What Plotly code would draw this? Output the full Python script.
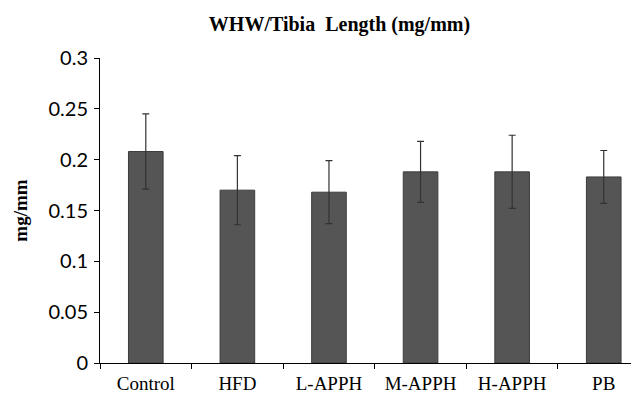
import plotly.graph_objects as go

categories = ["Control", "HFD", "L-APPH", "M-APPH", "H-APPH", "PB"]
means = [0.208, 0.170, 0.168, 0.188, 0.188, 0.183]
errors = [0.037, 0.034, 0.031, 0.030, 0.036, 0.026]
y_ticks = [0, 0.05, 0.1, 0.15, 0.2, 0.25, 0.3]
y_tick_labels = ["0", "0.05", "0.1", "0.15", "0.2", "0.25", "0.3"]

# The page body has an 8px margin, so the figure is sized to fill the rest of the window.
W, H, OFF = 631, 385, 8

fig = go.Figure()
fig.add_trace(go.Bar(
    x=categories,
    y=means,
    width=0.378,
    marker=dict(color="#555555", line=dict(color="#3c3c3c", width=1)),
    error_y=dict(type="data", array=errors, visible=True,
                 color="#333333", thickness=1.2, width=3.5),
    showlegend=False,
))

fig.update_layout(
    width=W, height=H,
    margin=dict(l=92, r=0, t=50, b=30),
    paper_bgcolor="white", plot_bgcolor="white",
    title=dict(text="<b>WHW/Tibia  Length (mg/mm)</b>",
               font=dict(family="Liberation Serif", size=20, color="#000"),
               x=(339.5 - OFF) / W, xref="container", xanchor="center",
               y=1 - (24 - OFF) / H, yref="container", yanchor="middle"),
)
fig.update_xaxes(
    range=[-0.5, 5.385],
    showline=True, linecolor="#000", linewidth=1,
    ticks="outside", tickson="boundaries", ticklen=5, tickcolor="#000",
    tickfont=dict(family="Liberation Serif", size=19, color="#000"),
    ticklabelstandoff=3,
    showgrid=False, zeroline=False, automargin=False,
)
fig.update_yaxes(
    range=[0, 0.3],
    tickvals=y_ticks, ticktext=y_tick_labels,
    showline=True, linecolor="#000", linewidth=1,
    ticks="outside", ticklen=5, tickcolor="#000",
    tickfont=dict(family="Lato", size=20, color="#000"),
    ticklabelstandoff=2,
    title=dict(text="<b>mg/mm</b>", standoff=15,
               font=dict(family="Liberation Serif", size=19, color="#000")),
    showgrid=False, zeroline=False, automargin=False,
)

fig.write_html("out.html")
